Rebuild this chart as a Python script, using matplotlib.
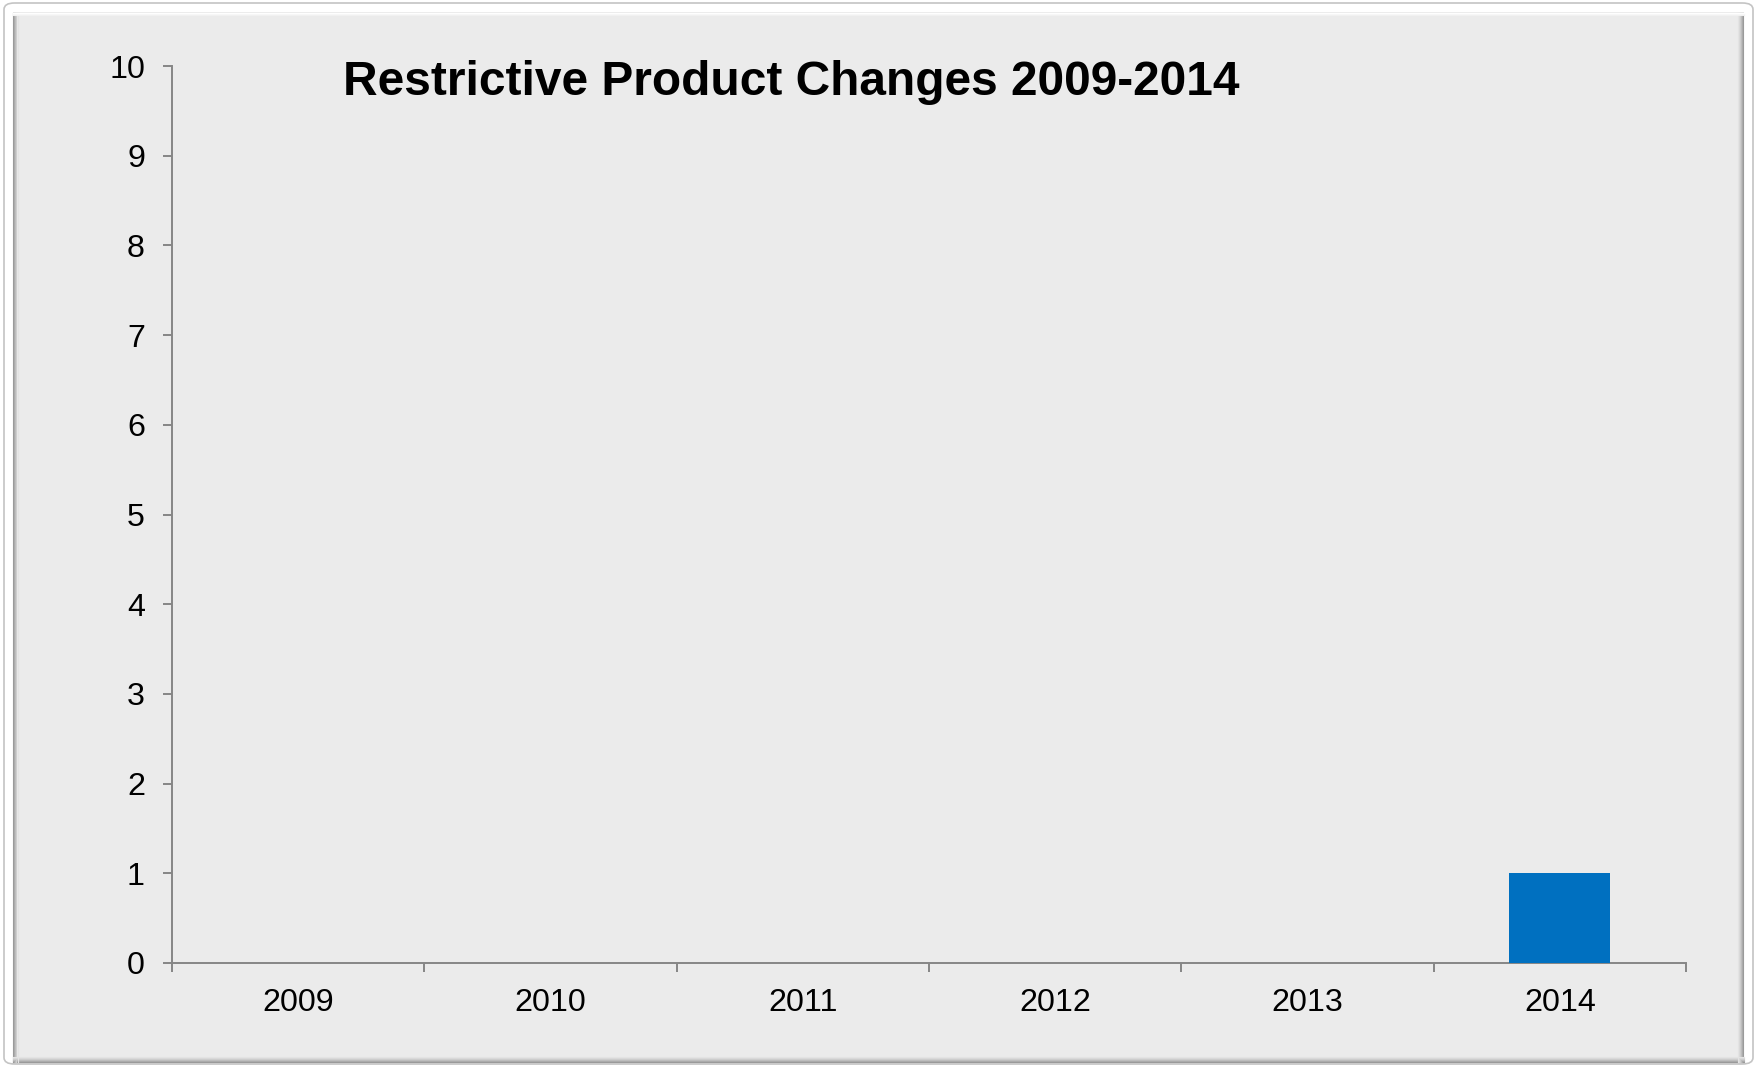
import matplotlib.pyplot as plt
from matplotlib.patches import Rectangle, FancyBboxPatch
from matplotlib.lines import Line2D

years = ['2009', '2010', '2011', '2012', '2013', '2014']
changes = [0, 0, 0, 0, 0, 1]

W, H = 1756, 1066
plt.rcParams['font.family'] = ['Liberation Sans', 'DejaVu Sans']

fig = plt.figure(figsize=(W / 100, H / 100), dpi=100, facecolor='white')


def fx(px):
    return px / W


def fy(py):
    return 1 - py / H


# outer rounded frame
fig.patches.append(FancyBboxPatch((fx(4), fy(1064)), fx(1749), 1061 / H,
                                  boxstyle='round,pad=0,rounding_size=0.006',
                                  transform=fig.transFigure, facecolor='white',
                                  edgecolor='#c4c4c4', linewidth=1.2, zorder=0))
# grey panel
fig.patches.append(Rectangle((fx(13), fy(1062)), fx(1731), 1050 / H,
                             transform=fig.transFigure, facecolor='#ebebeb',
                             edgecolor='none', zorder=1))
# bevel shading on the panel edges
for i, c in enumerate(['#9a9a9a', '#ababab', '#bdbdbd', '#cdcdcd', '#d9d9d9', '#e3e3e3']):
    o = i + 0.5
    fig.lines.append(Line2D([fx(13 + o)] * 2, [fy(13), fy(1062)], transform=fig.transFigure,
                            color=c, lw=0.8, zorder=2))
    fig.lines.append(Line2D([fx(13), fx(1744)], [fy(1062 - o)] * 2, transform=fig.transFigure,
                            color=c, lw=0.8, zorder=2))
    fig.lines.append(Line2D([fx(1744 - o)] * 2, [fy(13), fy(1062)], transform=fig.transFigure,
                            color=c, lw=0.8, zorder=2))
for i, c in enumerate(['#ffffff', '#f8f8f8', '#f1f1f1']):
    fig.lines.append(Line2D([fx(13), fx(1744)], [fy(13 + i)] * 2, transform=fig.transFigure,
                            color=c, lw=0.8, zorder=2))

ax = fig.add_axes([fx(172), fy(963), fx(1686 - 172), (963 - 66) / H])
ax.set_facecolor('none')
ax.set_zorder(3)

x = list(range(len(years)))
ax.bar(x, changes, width=0.4, color='#0070c0', zorder=3)

ax.set_xlim(-0.5, len(years) - 0.5)
ax.set_ylim(0, 10)
ax.set_yticks(range(0, 11))

# ticks on category boundaries, labels at centres
ax.set_xticks([i - 0.5 for i in range(len(years) + 1)])
ax.set_xticklabels([])
ax.set_xticks(x, minor=True)
ax.set_xticklabels(years, minor=True)
ax.tick_params(axis='x', which='minor', length=0, pad=18, labelsize=23.2)
ax.tick_params(axis='x', which='major', length=6.5, width=1.4, color='#868686', direction='out')
ax.tick_params(axis='y', length=6.5, width=1.4, color='#868686', pad=13, labelsize=23.2)

for s in ['top', 'right']:
    ax.spines[s].set_visible(False)
for s in ['left', 'bottom']:
    ax.spines[s].set_color('#868686')
    ax.spines[s].set_linewidth(1.4)

fig.text(fx(343), fy(95), 'Restrictive Product Changes 2009-2014', fontsize=34.5,
         fontweight='bold', ha='left', va='baseline', zorder=5)

fig.savefig('out.png', dpi=100, facecolor='white')
